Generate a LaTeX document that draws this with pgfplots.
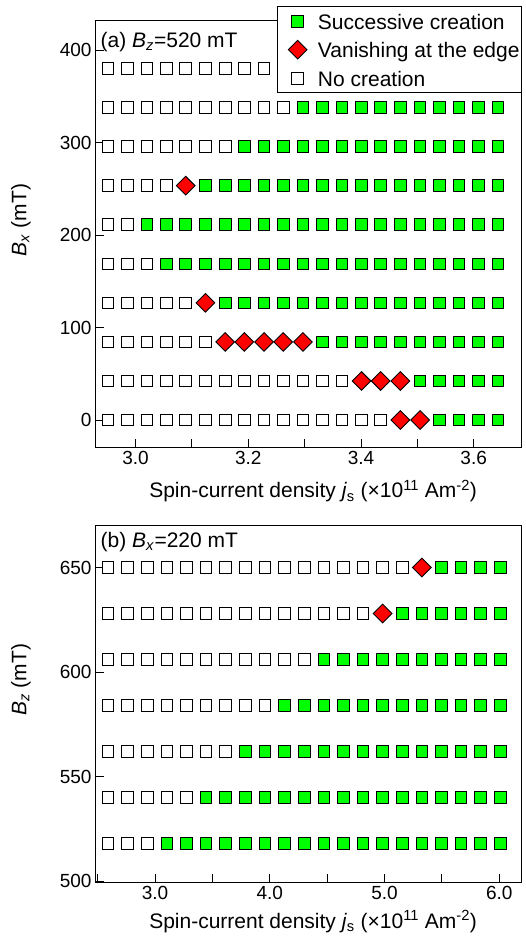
\documentclass[border=0pt]{standalone}
\usepackage{pgfplots}
\pgfplotsset{compat=1.18}
\usepackage{fontspec}
\setmainfont{Liberation Sans}

\definecolor{creategreen}{RGB}{0,255,0}
\definecolor{edgered}{RGB}{255,0,0}

\pgfplotsset{
  panel/.style={
    scale only axis, width=426pt,
    axis line style={line width=0.9pt},
    tick align=inside, xtick pos=left, ytick pos=left,
    major tick length=9pt,
    tick style={line width=0.9pt, black},
    tick label style={font=\fontsize{19}{21}\selectfont},
    label style={font=\fontsize{21}{24}\selectfont},
    /pgf/number format/assume math mode=true,
    xlabel={Spin-current density \textit{j}\textsubscript{s} (×10\textsuperscript{11} Am\textsuperscript{-2})},
  },
  created/.style={only marks, mark=square*, mark size=5.8pt,
    mark options={fill=creategreen, draw=black, line width=0.9pt}},
  vanished/.style={only marks, mark=square*, mark size=6.6pt,
    mark options={rotate=45, fill=edgered, draw=black, line width=0.9pt}},
  nocreation/.style={only marks, mark=square*, mark size=5.8pt,
    mark options={fill=white, draw=black, line width=0.9pt}},
}

\begin{document}
\begin{tikzpicture}
\useasboundingbox (-95pt,20pt) rectangle (431pt,-919pt);

% (a) field sweep along x at fixed B_z
\begin{axis}[panel,
  at={(0pt,0pt)}, anchor=north west,
  height=427.5pt,
  xmin=2.928, xmax=3.684, ymin=-29.7, ymax=432.4,
  xtick={3.0,3.1,3.2,3.3,3.4,3.5,3.6},
  xticklabels={3.0,,3.2,,3.4,,3.6},
  ytick={0,100,200,300,400},
  xlabel style={at={(axis description cs:0.512,-0.118)}, anchor=base},
  ylabel={\textit{B}\textsubscript{\textit{x}} (mT)},
  ylabel style={at={(axis description cs:-0.174,0.532)}, anchor=center, rotate=0},
  legend cell align=left,
  legend style={at={(rel axis cs:1,1)}, anchor=north east, xshift=1pt, yshift=14pt,
    draw=black, line width=0.9pt, font=\fontsize{21}{24}\selectfont,
    inner xsep=2pt, inner ysep=2pt, row sep=3pt, column sep=0pt,
    nodes={inner sep=0pt, text height=21pt, text depth=4.5pt}},
  legend image code/.code={
    \path (0pt,0pt) (37.5pt,0pt);
    \draw[#1] plot coordinates {(17.7pt,0pt)};},
]
\addplot[created] coordinates {
  (3.539,0) (3.574,0) (3.608,0) (3.643,0)
  (3.505,42.2) (3.539,42.2) (3.574,42.2) (3.608,42.2) (3.643,42.2)
  (3.332,84.4) (3.366,84.4) (3.401,84.4) (3.435,84.4) (3.470,84.4) (3.505,84.4) (3.539,84.4) (3.574,84.4) (3.608,84.4) (3.643,84.4)
  (3.159,126.7) (3.193,126.7) (3.228,126.7) (3.262,126.7) (3.297,126.7) (3.332,126.7) (3.366,126.7) (3.401,126.7) (3.435,126.7) (3.470,126.7) (3.505,126.7) (3.539,126.7) (3.574,126.7) (3.608,126.7) (3.643,126.7)
  (3.055,168.9) (3.089,168.9) (3.124,168.9) (3.159,168.9) (3.193,168.9) (3.228,168.9) (3.262,168.9) (3.297,168.9) (3.332,168.9) (3.366,168.9) (3.401,168.9) (3.435,168.9) (3.470,168.9) (3.505,168.9) (3.539,168.9) (3.574,168.9) (3.608,168.9) (3.643,168.9)
  (3.020,211.1) (3.055,211.1) (3.089,211.1) (3.124,211.1) (3.159,211.1) (3.193,211.1) (3.228,211.1) (3.262,211.1) (3.297,211.1) (3.332,211.1) (3.366,211.1) (3.401,211.1) (3.435,211.1) (3.470,211.1) (3.505,211.1) (3.539,211.1) (3.574,211.1) (3.608,211.1) (3.643,211.1)
  (3.124,253.3) (3.159,253.3) (3.193,253.3) (3.228,253.3) (3.262,253.3) (3.297,253.3) (3.332,253.3) (3.366,253.3) (3.401,253.3) (3.435,253.3) (3.470,253.3) (3.505,253.3) (3.539,253.3) (3.574,253.3) (3.608,253.3) (3.643,253.3)
  (3.193,295.6) (3.228,295.6) (3.262,295.6) (3.297,295.6) (3.332,295.6) (3.366,295.6) (3.401,295.6) (3.435,295.6) (3.470,295.6) (3.505,295.6) (3.539,295.6) (3.574,295.6) (3.608,295.6) (3.643,295.6)
  (3.297,337.8) (3.332,337.8) (3.366,337.8) (3.401,337.8) (3.435,337.8) (3.470,337.8) (3.505,337.8) (3.539,337.8) (3.574,337.8) (3.608,337.8) (3.643,337.8)
};
\addlegendentry{Successive creation}
\addplot[vanished] coordinates {
  (3.470,0) (3.505,0)
  (3.401,42.2) (3.435,42.2) (3.470,42.2)
  (3.159,84.4) (3.193,84.4) (3.228,84.4) (3.262,84.4) (3.297,84.4)
  (3.124,126.7)
  (3.089,253.3)
};
\addlegendentry{Vanishing at the edge}
\addplot[nocreation] coordinates {
  (2.951,0) (2.986,0) (3.020,0) (3.055,0) (3.089,0) (3.124,0) (3.159,0) (3.193,0) (3.228,0) (3.262,0) (3.297,0) (3.332,0) (3.366,0) (3.401,0) (3.435,0)
  (2.951,42.2) (2.986,42.2) (3.020,42.2) (3.055,42.2) (3.089,42.2) (3.124,42.2) (3.159,42.2) (3.193,42.2) (3.228,42.2) (3.262,42.2) (3.297,42.2) (3.332,42.2) (3.366,42.2)
  (2.951,84.4) (2.986,84.4) (3.020,84.4) (3.055,84.4) (3.089,84.4) (3.124,84.4)
  (2.951,126.7) (2.986,126.7) (3.020,126.7) (3.055,126.7) (3.089,126.7)
  (2.951,168.9) (2.986,168.9) (3.020,168.9)
  (2.951,211.1) (2.986,211.1)
  (2.951,253.3) (2.986,253.3) (3.020,253.3) (3.055,253.3)
  (2.951,295.6) (2.986,295.6) (3.020,295.6) (3.055,295.6) (3.089,295.6) (3.124,295.6) (3.159,295.6)
  (2.951,337.8) (2.986,337.8) (3.020,337.8) (3.055,337.8) (3.089,337.8) (3.124,337.8) (3.159,337.8) (3.193,337.8) (3.228,337.8) (3.262,337.8)
  (2.951,380) (2.986,380) (3.020,380) (3.055,380) (3.089,380) (3.124,380) (3.159,380) (3.193,380) (3.228,380) (3.262,380) (3.297,380) (3.332,380) (3.366,380) (3.401,380) (3.435,380) (3.470,380) (3.505,380) (3.539,380) (3.574,380) (3.608,380) (3.643,380)
};
\addlegendentry{No creation}
\node[anchor=base west, inner sep=0pt, font=\fontsize{21}{24}\selectfont]
  at (axis description cs:0.013,0.935) {(a) \textit{B}\textsubscript{\textit{z}}=520 mT};
\end{axis}

% (b) field sweep along z at fixed B_x
\begin{axis}[panel,
  at={(0pt,-505.7pt)}, anchor=north west,
  height=357pt,
  xmin=2.477, xmax=6.19, ymin=499.3, ymax=670,
  xtick={2.5,3.0,3.5,4.0,4.5,5.0,5.5,6.0},
  xticklabels={,3.0,,4.0,,5.0,,6.0},
  ytick={500,550,600,650},
  xlabel style={at={(axis description cs:0.512,-0.127)}, anchor=base},
  ylabel={\textit{B}\textsubscript{\textit{z}} (mT)},
  ylabel style={at={(axis description cs:-0.174,0.568)}, anchor=center, rotate=0},
]
\addplot[created] coordinates {
  (5.497,650) (5.668,650) (5.839,650) (6.010,650)
  (5.155,628) (5.326,628) (5.497,628) (5.668,628) (5.839,628) (6.010,628)
  (4.471,606) (4.642,606) (4.813,606) (4.984,606) (5.155,606) (5.326,606) (5.497,606) (5.668,606) (5.839,606) (6.010,606)
  (4.129,584) (4.300,584) (4.471,584) (4.642,584) (4.813,584) (4.984,584) (5.155,584) (5.326,584) (5.497,584) (5.668,584) (5.839,584) (6.010,584)
  (3.787,562) (3.958,562) (4.129,562) (4.300,562) (4.471,562) (4.642,562) (4.813,562) (4.984,562) (5.155,562) (5.326,562) (5.497,562) (5.668,562) (5.839,562) (6.010,562)
  (3.445,540) (3.616,540) (3.787,540) (3.958,540) (4.129,540) (4.300,540) (4.471,540) (4.642,540) (4.813,540) (4.984,540) (5.155,540) (5.326,540) (5.497,540) (5.668,540) (5.839,540) (6.010,540)
  (3.103,518) (3.274,518) (3.445,518) (3.616,518) (3.787,518) (3.958,518) (4.129,518) (4.300,518) (4.471,518) (4.642,518) (4.813,518) (4.984,518) (5.155,518) (5.326,518) (5.497,518) (5.668,518) (5.839,518) (6.010,518)
};
\addplot[vanished] coordinates {
  (5.326,650)
  (4.984,628)
};
\addplot[nocreation] coordinates {
  (2.590,650) (2.761,650) (2.932,650) (3.103,650) (3.274,650) (3.445,650) (3.616,650) (3.787,650) (3.958,650) (4.129,650) (4.300,650) (4.471,650) (4.642,650) (4.813,650) (4.984,650) (5.155,650)
  (2.590,628) (2.761,628) (2.932,628) (3.103,628) (3.274,628) (3.445,628) (3.616,628) (3.787,628) (3.958,628) (4.129,628) (4.300,628) (4.471,628) (4.642,628) (4.813,628)
  (2.590,606) (2.761,606) (2.932,606) (3.103,606) (3.274,606) (3.445,606) (3.616,606) (3.787,606) (3.958,606) (4.129,606) (4.300,606)
  (2.590,584) (2.761,584) (2.932,584) (3.103,584) (3.274,584) (3.445,584) (3.616,584) (3.787,584) (3.958,584)
  (2.590,562) (2.761,562) (2.932,562) (3.103,562) (3.274,562) (3.445,562) (3.616,562)
  (2.590,540) (2.761,540) (2.932,540) (3.103,540) (3.274,540)
  (2.590,518) (2.761,518) (2.932,518)
};
\node[anchor=base west, inner sep=0pt, font=\fontsize{21}{24}\selectfont]
  at (axis description cs:0.013,0.938) {(b) \textit{B}\textsubscript{\textit{x}}=220 mT};
\end{axis}
\end{tikzpicture}
\end{document}
